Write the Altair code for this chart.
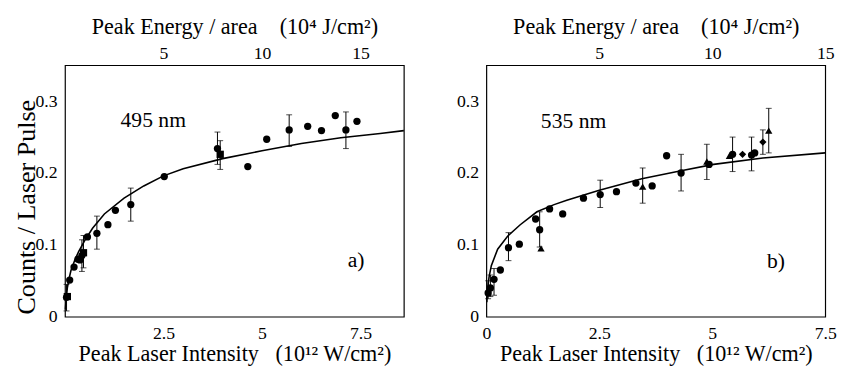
import altair as alt
import pandas as pd

FONT = "Liberation Serif"

# ---------------- Panel a) 495 nm ----------------
a_curve_x = [0.01, 0.03, 0.06, 0.1, 0.15, 0.25, 0.35, 0.5, 0.7, 1.0, 1.5, 2.0, 2.5, 3.0, 4.0, 5.0, 6.0, 7.0, 8.0, 8.6]
a_curve_y = [0.01, 0.025, 0.04, 0.052, 0.064, 0.079, 0.091, 0.106, 0.123, 0.143, 0.165, 0.182, 0.196, 0.206, 0.220, 0.231, 0.241, 0.249, 0.255, 0.259]

a_pt_x = [0.04, 0.06, 0.12, 0.23, 0.33, 0.38, 0.43, 0.47, 0.57, 0.81, 1.09, 1.28, 1.67, 2.52, 3.87, 3.94, 4.64, 5.12, 5.69, 6.16, 6.51, 6.86, 7.13, 7.41]
a_pt_y = [0.027, 0.028, 0.051, 0.069, 0.080, 0.079, 0.085, 0.089, 0.111, 0.116, 0.128, 0.148, 0.156, 0.195, 0.234, 0.226, 0.209, 0.247, 0.260, 0.265, 0.259, 0.280, 0.260, 0.272]
a_pt_shape = ["circle", "square", "circle", "circle", "circle", "circle", "circle", "square", "circle", "circle", "circle", "circle", "circle", "circle", "circle", "square", "circle", "circle", "circle", "circle", "circle", "circle", "circle", "circle"]

a_err_x = [0.04, 0.43, 0.47, 0.81, 1.67, 3.87, 3.94, 5.69, 7.13]
a_err_lo = [0.008, 0.063, 0.068, 0.094, 0.133, 0.212, 0.205, 0.237, 0.234]
a_err_hi = [0.045, 0.107, 0.113, 0.140, 0.179, 0.257, 0.245, 0.281, 0.285]

# ---------------- Panel b) 535 nm ----------------
b_curve_x = [0.01, 0.03, 0.06, 0.11, 0.25, 0.47, 0.75, 1.12, 1.5, 1.78, 2.5, 3.44, 4.31, 5.03, 6.12, 7.5]
b_curve_y = [0.02, 0.04, 0.055, 0.071, 0.094, 0.112, 0.128, 0.146, 0.156, 0.162, 0.176, 0.192, 0.203, 0.212, 0.221, 0.228]

b_pt_x = [0.04, 0.09, 0.17, 0.31, 0.49, 0.73, 1.09, 1.18, 1.21, 1.40, 1.69, 2.15, 2.52, 2.88, 3.31, 3.46, 3.67, 3.99, 4.31, 4.88, 4.93, 5.38, 5.45, 5.67, 5.87, 5.94, 6.12, 6.25]
b_pt_y = [0.033, 0.040, 0.052, 0.065, 0.096, 0.101, 0.136, 0.121, 0.095, 0.150, 0.143, 0.165, 0.170, 0.174, 0.186, 0.181, 0.182, 0.224, 0.200, 0.216, 0.212, 0.224, 0.226, 0.226, 0.225, 0.228, 0.243, 0.259]
b_pt_shape = ["circle", "circle", "circle", "circle", "circle", "circle", "circle", "circle", "triangle-up", "circle", "circle", "circle", "circle", "circle", "circle", "triangle-up", "circle", "circle", "circle", "triangle-up", "circle", "triangle-up", "circle", "diamond", "circle", "circle", "diamond", "triangle-up"]

b_err_x = [0.04, 0.09, 0.17, 0.49, 1.18, 2.52, 3.46, 4.31, 4.88, 5.45, 5.87, 6.12, 6.25]
b_err_lo = [0.025, 0.028, 0.030, 0.078, 0.097, 0.152, 0.158, 0.175, 0.191, 0.202, 0.203, 0.226, 0.228]
b_err_hi = [0.050, 0.058, 0.067, 0.117, 0.146, 0.190, 0.207, 0.226, 0.240, 0.250, 0.250, 0.260, 0.290]

# axis settings
y_ticks = [0, 0.1, 0.2, 0.3]
a_xticks = [2.5, 5, 7.5]
b_xticks = [0, 2.5, 5, 7.5]
top_ticks = [5, 10, 15]
a_xmax = 8.6
b_xmax = 7.5
y_max = 0.35

# annotations (data units)
a_labels = ["495 nm", "a)"]
a_lab_x = [2.24, 7.39]
a_lab_y = [0.274, 0.079]
b_labels = ["535 nm", "b)"]
b_lab_x = [1.93, 6.41]
b_lab_y = [0.272, 0.078]

NB = "\u00a0"
x_title = "Peak Laser Intensity" + NB * 3 + "(10¹² W/cm²)"
top_title = "Peak Energy / area" + NB * 4 + "(10⁴ J/cm²)"
y_title = "Counts / Laser Pulse"

shape_domain = ["circle", "square", "triangle-up", "diamond"]
LABEL_EXPR = "'' + datum.value"


def panel(cx, cy, px, py, pshape, ex, elo, ehi, xmax, xticks, labs, lx, ly, with_ytitle):
    curve = pd.DataFrame({"x": cx, "y": cy})
    pts = pd.DataFrame({"x": px, "y": py, "shape": pshape})
    errs = pd.DataFrame({"x": ex, "lo": elo, "hi": ehi})
    notes = pd.DataFrame({"x": lx, "y": ly, "t": labs})

    xs = alt.Scale(domain=[0, xmax], nice=False, zero=False)
    ys = alt.Scale(domain=[0, y_max], nice=False, zero=False)

    yaxis_kw = dict(values=y_ticks, labelExpr=LABEL_EXPR, labelPadding=8)
    if with_ytitle:
        yaxis_kw.update(title=y_title, titleFontSize=26.5, titlePadding=-5, titleY=144)
    else:
        yaxis_kw.update(title="")
    yaxis = alt.Axis(**yaxis_kw)
    xaxis = alt.Axis(values=xticks, labelExpr=LABEL_EXPR, title=x_title, labelPadding=8,
                     titlePadding=1, titleFontSize=22.5)

    line = alt.Chart(curve).mark_line(color="black", strokeWidth=1.6).encode(
        x=alt.X("x:Q", scale=xs, axis=xaxis),
        y=alt.Y("y:Q", scale=ys, axis=yaxis),
    )
    err = alt.Chart(errs).mark_errorbar(ticks={"size": 6}, color="black", thickness=1).encode(
        x=alt.X("x:Q", scale=xs, axis=xaxis),
        y=alt.Y("lo:Q", scale=ys, axis=yaxis),
        y2="hi:Q",
    )
    dots = alt.Chart(pts).mark_point(filled=True, opacity=1, size=55, color="black").encode(
        x=alt.X("x:Q", scale=xs, axis=xaxis),
        y=alt.Y("y:Q", scale=ys, axis=yaxis),
        shape=alt.Shape("shape:N", scale=alt.Scale(domain=shape_domain, range=shape_domain), legend=None),
    )
    txt = alt.Chart(notes).mark_text(font=FONT, fontSize=22, color="black").encode(
        x=alt.X("x:Q", scale=xs, axis=xaxis),
        y=alt.Y("y:Q", scale=ys, axis=yaxis),
        text="t:N",
    )
    inner = alt.layer(line, err, dots, txt)

    top = alt.Chart(curve).transform_calculate(energy="2*datum.x").mark_rule(opacity=0).encode(
        x=alt.X("energy:Q", scale=alt.Scale(domain=[0, 2 * xmax], nice=False, zero=False),
                axis=alt.Axis(orient="top", values=top_ticks, labelExpr=LABEL_EXPR, title=top_title,
                              labelPadding=3, titlePadding=6, titleFontSize=22.5))
    )
    return alt.layer(inner, top).resolve_scale(x="independent").properties(width=345, height=256)


left = panel(a_curve_x, a_curve_y, a_pt_x, a_pt_y, a_pt_shape, a_err_x, a_err_lo, a_err_hi,
             a_xmax, a_xticks, a_labels, a_lab_x, a_lab_y, True)
right = panel(b_curve_x, b_curve_y, b_pt_x, b_pt_y, b_pt_shape, b_err_x, b_err_lo, b_err_hi,
              b_xmax, b_xticks, b_labels, b_lab_x, b_lab_y, False)

chart = alt.hconcat(left, right, spacing=48).properties(
    padding={"left": 4, "top": 4, "right": 0, "bottom": 0},
    background="white",
).configure_view(stroke="black", strokeWidth=1.2).configure_axis(
    grid=False, domain=False, ticks=False, labelFlush=False, labelFont=FONT, titleFont=FONT,
    labelFontSize=18, labelColor="black", titleColor="black", titleFontWeight="normal"
)

chart.save("out.html", embed_options={"renderer": "svg", "actions": False})
